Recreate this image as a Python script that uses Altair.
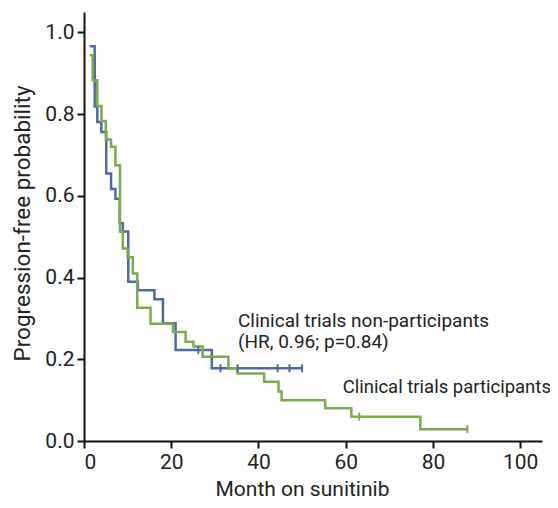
import altair as alt
import pandas as pd

# Kaplan-Meier step points (months, probability)
blue_t = [1.3, 2.45, 3.05, 3.97, 5.1, 6.2, 7.2, 8.2, 8.9, 10.15, 12.35, 16.15, 18.1, 21.0, 29.3, 50.0]
blue_s = [0.966, 0.819, 0.781, 0.756, 0.655, 0.617, 0.593, 0.533, 0.513, 0.39, 0.369, 0.347, 0.288, 0.223, 0.178, 0.178]

green_t = [1.3, 2.0, 3.05, 4.0, 5.0, 6.2, 7.2, 8.25, 8.9, 10.0, 11.2, 12.2, 15.25, 20.4, 23.3, 25.1,
           27.2, 33.1, 35.2, 41.3, 44.6, 45.3, 55.3, 61.3, 77.1, 87.9]
green_s = [0.944, 0.883, 0.82, 0.783, 0.738, 0.72, 0.675, 0.512, 0.471, 0.45, 0.41, 0.326, 0.287, 0.267,
           0.243, 0.231, 0.206, 0.178, 0.165, 0.145, 0.121, 0.10, 0.080, 0.0595, 0.029, 0.029]

# censoring marks
blue_cens_t = [26.2, 31.3, 35.2, 44.4, 47.1, 50.0]
blue_cens_s = [0.223, 0.178, 0.178, 0.178, 0.178, 0.178]
green_cens_t = [63.1, 87.9]
green_cens_s = [0.0595, 0.029]

x_ticks = [0, 20, 40, 60, 80, 100]
y_ticks = [0.0, 0.2, 0.4, 0.6, 0.8, 1.0]

ann_text = ["Clinical trials non-participants", "(HR, 0.96; p=0.84)", "Clinical trials participants"]
ann_t = [35.3, 35.3, 59.3]
ann_s = [0.280, 0.228, 0.117]
ann_size = [19, 19, 18.5]

BLUE = "#52699f"
GREEN = "#7caa4f"
FONT = "Roboto"

blue_df = pd.DataFrame({"t": blue_t, "s": blue_s})
green_df = pd.DataFrame({"t": green_t, "s": green_s})
bc_df = pd.DataFrame({"t": blue_cens_t, "s": blue_cens_s})
gc_df = pd.DataFrame({"t": green_cens_t, "s": green_cens_s})
ann_df = pd.DataFrame({"t": ann_t, "s": ann_s, "label": ann_text, "size": ann_size})

x_enc = alt.X("t:Q", scale=alt.Scale(domain=[0, 105], nice=False, zero=False),
              axis=alt.Axis(values=x_ticks, title="Month on sunitinib", grid=False,
                            titleX=218, titleY=54, titleBaseline="alphabetic", titleAnchor="start",
                            titleAlign="center", titleFontSize=21))
y_enc = alt.Y("s:Q", scale=alt.Scale(domain=[0, 1.05], nice=False),
              axis=alt.Axis(values=y_ticks, format=".1f", title="Progression-free probability",
                            grid=False, titleX=-62, titleY=211, titleAngle=270,
                            titleBaseline="middle", titleAlign="center", titleAnchor="start",
                            titleFontSize=22.5))

blue_line = alt.Chart(blue_df).mark_line(interpolate="step-after", strokeWidth=2.5, color=BLUE).encode(x=x_enc, y=y_enc)
green_line = alt.Chart(green_df).mark_line(interpolate="step-after", strokeWidth=2.5, color=GREEN).encode(x="t:Q", y="s:Q")
bc = alt.Chart(bc_df).mark_point(shape="M0,-1L0,1", size=64, strokeWidth=2, filled=False, opacity=1, color=BLUE).encode(x="t:Q", y="s:Q")
gc = alt.Chart(gc_df).mark_point(shape="M0,-1L0,1", size=64, strokeWidth=2, filled=False, opacity=1, color=GREEN).encode(x="t:Q", y="s:Q")
ann = alt.Chart(ann_df).mark_text(align="left", baseline="alphabetic", font=FONT, color="#222").encode(
    x="t:Q", y="s:Q", text="label:N",
    size=alt.Size("size:Q", scale=None, legend=None))

chart = alt.layer(blue_line, green_line, bc, gc, ann).properties(
    width=458, height=429,
    autosize=alt.AutoSizeParams(type="none"),
    padding={"left": 76, "top": 4, "right": 8, "bottom": 59},
).configure_view(stroke=None).configure_axis(
    domainColor="#111", domainWidth=2, tickColor="#111", tickWidth=2, tickSize=7,
    labelFont=FONT, labelFontSize=21, labelColor="#222", labelPadding=3,
    titleFont=FONT, titleFontWeight="normal", titleColor="#222",
)

chart.save("out.html", embed_options={"renderer": "svg", "actions": False})
